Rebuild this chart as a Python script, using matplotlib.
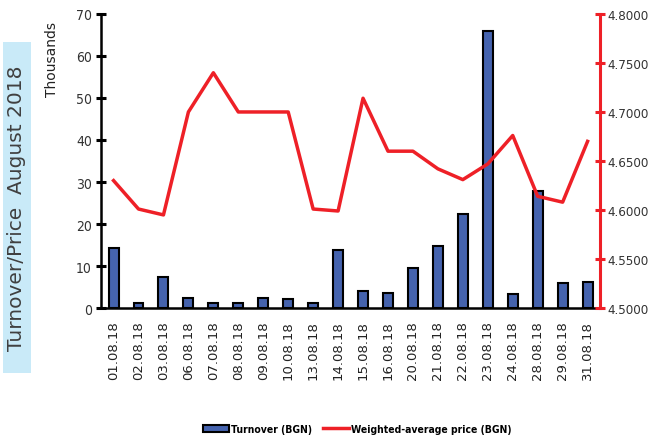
import matplotlib
matplotlib.use("Agg")
import matplotlib.pyplot as plt
from matplotlib.patches import Rectangle
from matplotlib.font_manager import FontProperties

# data
dates = ["01.08.18", "02.08.18", "03.08.18", "06.08.18", "07.08.18", "08.08.18",
         "09.08.18", "10.08.18", "13.08.18", "14.08.18", "15.08.18", "16.08.18",
         "20.08.18", "21.08.18", "22.08.18", "23.08.18", "24.08.18", "28.08.18",
         "29.08.18", "31.08.18"]
turnover = [14.4, 1.2, 7.5, 2.5, 1.2, 1.2, 2.5, 2.2, 1.2, 13.7, 4.0, 3.6,
            9.6, 14.8, 22.4, 65.9, 3.3, 27.9, 6.0, 6.3]
price = [4.630, 4.601, 4.595, 4.700, 4.740, 4.700, 4.700, 4.700, 4.601, 4.599,
         4.714, 4.660, 4.660, 4.642, 4.631, 4.647, 4.676, 4.614, 4.608, 4.670]
left_ticks = [0, 10, 20, 30, 40, 50, 60, 70]
right_ticks = [4.50, 4.55, 4.60, 4.65, 4.70, 4.75, 4.80]

BLUE = "#4563ae"
RED = "#ee2027"

x = list(range(len(turnover)))

fig = plt.figure(figsize=(6.48, 4.39), dpi=100)
ax = fig.add_axes([0.156, 0.296, 0.770, 0.670])
ax2 = ax.twinx()

bars = ax.bar(x, turnover, width=0.4, color=BLUE, edgecolor="black", linewidth=1.5,
              label="Turnover (BGN)", zorder=2)
line, = ax2.plot(x, price, color=RED, linewidth=2.5, label="Weighted-average price (BGN)")

ax.set_xlim(-0.5, len(x) - 0.5)
ax.set_ylim(0, 70)
ax2.set_ylim(4.5, 4.8)
ax.set_yticks(left_ticks)
ax2.set_yticks(right_ticks)
ax2.set_yticklabels([f"{v:.4f}" for v in right_ticks])

for s in ["top", "right"]:
    ax.spines[s].set_visible(False)
for s in ["top", "left", "bottom"]:
    ax2.spines[s].set_visible(False)
ax.spines["left"].set_linewidth(1.8)
ax.spines["bottom"].set_linewidth(1.8)
ax2.spines["right"].set_color(RED)
ax2.spines["right"].set_linewidth(2.2)

ax.set_xticks(x)
ax.set_xticklabels(dates, rotation=90, fontsize=9.5, color="#222222")
ax.tick_params(axis="x", length=0, pad=9)
ax.tick_params(axis="y", direction="inout", length=7, width=2.2, pad=3)
ax2.tick_params(axis="y", direction="inout", length=7, width=2.2, color=RED, pad=2)
for t in ax.get_yticklabels():
    t.set_fontproperties(FontProperties(family="DejaVu Sans", stretch="condensed", size=10))
    t.set_color("#333333")
for t in ax2.get_yticklabels():
    t.set_fontproperties(FontProperties(family="DejaVu Sans", stretch="condensed", size=9.5))
    t.set_color("#333333")

fig.text(0.080, 0.95, "Thousands", rotation=90, ha="center", va="top", fontsize=10, color="#222222")
fig.patches.append(Rectangle((3 / 648, 1 - 374 / 439), 28 / 648, 331 / 439,
                             transform=fig.transFigure, facecolor="#c9eaf8",
                             edgecolor="none", zorder=0))
fig.text(17 / 648, 1 - 208 / 439, "Turnover/Price  August 2018", rotation=90, ha="center",
         va="center", fontsize=14.5, color="#404040")

leg = fig.legend(handles=[bars, line], loc="lower center", bbox_to_anchor=(0.551, -0.012),
                 ncol=2, frameon=False, handlelength=2.5, columnspacing=1.0, handletextpad=0.2,
                 prop=FontProperties(family="DejaVu Sans", stretch="condensed",
                                     weight="bold", size=7.5))

fig.savefig("out.png", dpi=100)
